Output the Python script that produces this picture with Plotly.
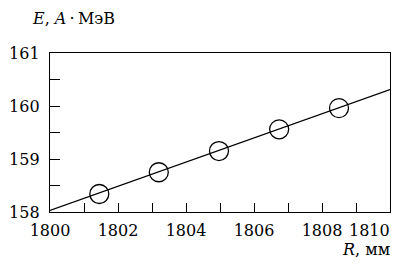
import plotly.graph_objects as go

r_points = [1801.45, 1803.2, 1804.97, 1806.74, 1808.5]
e_points = [158.34, 158.75, 159.15, 159.56, 159.96]
fit_r = [1800, 1810]
fit_e = [158.03, 160.31]

x_ticks = list(range(1800, 1811))
x_labels = [str(v) if v % 2 == 0 else "" for v in x_ticks]
last_label = x_labels[-1]
x_labels[-1] = ""  # drawn as an annotation shifted left to fit, as in the original
y_ticks = [158, 158.5, 159, 159.5, 160, 160.5, 161]
y_labels = ["158", "", "159", "", "160", "", "161"]

FONT = "DejaVu Serif"
FS = 16

fig = go.Figure()
fig.add_trace(go.Scatter(x=fit_r, y=fit_e, mode="lines",
                         line=dict(color="black", width=1.3), showlegend=False))
fig.add_trace(go.Scatter(x=r_points, y=e_points, mode="markers",
                         marker=dict(symbol="circle-open", size=19, color="black",
                                     line=dict(width=1.3, color="black")),
                         showlegend=False))

fig.update_layout(
    width=409, height=266,
    margin=dict(l=50, r=19, t=53, b=54),
    paper_bgcolor="white", plot_bgcolor="white",
    font=dict(family=FONT, size=FS, color="black"),
    xaxis=dict(range=[1800, 1810], tickvals=x_ticks, ticktext=x_labels,
               ticks="inside", ticklen=9, tickwidth=1.2, tickcolor="black",
               showline=True, linecolor="black", linewidth=1.3, mirror=True,
               showgrid=False, zeroline=False, ticklabelstandoff=4,
               automargin=False),
    yaxis=dict(range=[158, 161], tickvals=y_ticks, ticktext=y_labels,
               ticks="inside", ticklen=10, tickwidth=1.2, tickcolor="black",
               showline=True, linecolor="black", linewidth=1.3, mirror=True,
               showgrid=False, zeroline=False, ticklabelstandoff=6,
               automargin=False),
    annotations=[
        dict(text="<i>E</i>, <i>A</i>\u2009·\u2009МэВ", xref="paper", yref="paper",
             x=-0.06, y=1.22, xanchor="left", yanchor="middle", showarrow=False,
             font=dict(family=FONT, size=FS, color="black")),
        dict(text="<i>R</i>, мм", xref="paper", yref="paper",
             x=1.005, y=-0.235, xanchor="right", yanchor="middle", showarrow=False,
             font=dict(family=FONT, size=FS, color="black")),
        dict(text=last_label, xref="paper", yref="paper",
             x=1.006, y=-0.119, xanchor="right", yanchor="middle", showarrow=False,
             font=dict(family=FONT, size=FS, color="black")),
    ],
)

fig.write_html("out.html", config={"displayModeBar": False},
               post_script="document.body.style.margin='0';")
